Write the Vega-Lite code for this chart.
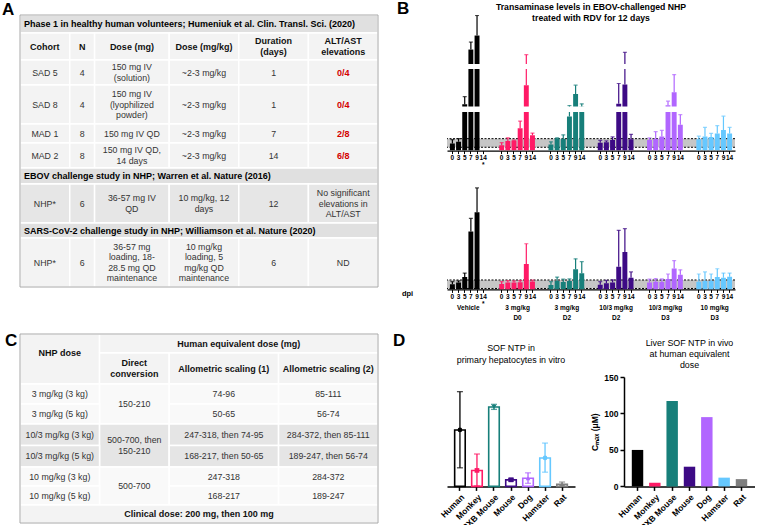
{
"$schema":"https://vega.github.io/schema/vega-lite/v6.json",
"padding":{"left":2,"top":0,"right":0,"bottom":0},
"background":"white",
"config":{"font":"Liberation Sans","view":{"stroke":null},
"axis":{"grid":false,"domainColor":"#000","tickColor":"#000","labelColor":"#000","titleColor":"#000","labelFontWeight":"bold","titleFontWeight":"bold","labelFont":"Liberation Sans","titleFont":"Liberation Sans"},
"title":{"font":"Liberation Sans","color":"#000"},"text":{"font":"Liberation Sans"}},
"datasets":{
"tables":[
{"r0":0,"r1":10,"c0":0,"c1":72,"t":"","k":"frame","s":"none"},
{"r0":11,"r1":20,"c0":0,"c1":72,"t":"","k":"frame","s":"none"},
{"r0":11,"r1":11,"c0":0,"c1":0,"t":"C","k":"letter","s":"none"},
{"r0":0,"r1":1,"c0":0,"c1":72,"t":"Phase 1 in healthy human volunteers; Humeniuk et al. Clin. Transl. Sci. (2020)","k":"title","s":"title"},
{"r0":1,"r1":2,"c0":0,"c1":10,"t":"Cohort","k":"head","s":"light"},
{"r0":1,"r1":2,"c0":10,"c1":15,"t":"N","k":"head","s":"light"},
{"r0":1,"r1":2,"c0":15,"c1":30,"t":"Dose (mg)","k":"head","s":"light"},
{"r0":1,"r1":2,"c0":30,"c1":44,"t":"Dose (mg/kg)","k":"head","s":"light"},
{"r0":1,"r1":2,"c0":44,"c1":58,"t":"Duration\n(days)","k":"head","s":"light"},
{"r0":1,"r1":2,"c0":58,"c1":72,"t":"ALT/AST\nelevations","k":"head","s":"light"},
{"r0":2,"r1":3,"c0":0,"c1":10,"t":"SAD 5","k":"body","s":"light"},
{"r0":2,"r1":3,"c0":10,"c1":15,"t":"4","k":"body","s":"light"},
{"r0":2,"r1":3,"c0":15,"c1":30,"t":"150 mg IV\n(solution)","k":"body","s":"light"},
{"r0":2,"r1":3,"c0":30,"c1":44,"t":"~2-3 mg/kg","k":"body","s":"light"},
{"r0":2,"r1":3,"c0":44,"c1":58,"t":"1","k":"body","s":"light"},
{"r0":2,"r1":3,"c0":58,"c1":72,"t":"0/4","k":"red","s":"light"},
{"r0":3,"r1":4,"c0":0,"c1":10,"t":"SAD 8","k":"body","s":"light"},
{"r0":3,"r1":4,"c0":10,"c1":15,"t":"4","k":"body","s":"light"},
{"r0":3,"r1":4,"c0":15,"c1":30,"t":"150 mg IV\n(lyophilized\npowder)","k":"body","s":"light"},
{"r0":3,"r1":4,"c0":30,"c1":44,"t":"~2-3 mg/kg","k":"body","s":"light"},
{"r0":3,"r1":4,"c0":44,"c1":58,"t":"1","k":"body","s":"light"},
{"r0":3,"r1":4,"c0":58,"c1":72,"t":"0/4","k":"red","s":"light"},
{"r0":4,"r1":5,"c0":0,"c1":10,"t":"MAD 1","k":"body","s":"light"},
{"r0":4,"r1":5,"c0":10,"c1":15,"t":"8","k":"body","s":"light"},
{"r0":4,"r1":5,"c0":15,"c1":30,"t":"150 mg IV QD","k":"body","s":"light"},
{"r0":4,"r1":5,"c0":30,"c1":44,"t":"~2-3 mg/kg","k":"body","s":"light"},
{"r0":4,"r1":5,"c0":44,"c1":58,"t":"7","k":"body","s":"light"},
{"r0":4,"r1":5,"c0":58,"c1":72,"t":"2/8","k":"red","s":"light"},
{"r0":5,"r1":6,"c0":0,"c1":10,"t":"MAD 2","k":"body","s":"light"},
{"r0":5,"r1":6,"c0":10,"c1":15,"t":"8","k":"body","s":"light"},
{"r0":5,"r1":6,"c0":15,"c1":30,"t":"150 mg IV QD,\n14 days","k":"body","s":"light"},
{"r0":5,"r1":6,"c0":30,"c1":44,"t":"~2-3 mg/kg","k":"body","s":"light"},
{"r0":5,"r1":6,"c0":44,"c1":58,"t":"14","k":"body","s":"light"},
{"r0":5,"r1":6,"c0":58,"c1":72,"t":"6/8","k":"red","s":"light"},
{"r0":6,"r1":7,"c0":0,"c1":72,"t":"EBOV challenge study in NHP; Warren et al. Nature (2016)","k":"title","s":"title"},
{"r0":7,"r1":8,"c0":0,"c1":10,"t":"NHP*","k":"body","s":"dark"},
{"r0":7,"r1":8,"c0":10,"c1":15,"t":"6","k":"body","s":"dark"},
{"r0":7,"r1":8,"c0":15,"c1":30,"t":"36-57 mg IV\nQD","k":"body","s":"dark"},
{"r0":7,"r1":8,"c0":30,"c1":44,"t":"10 mg/kg, 12\ndays","k":"body","s":"dark"},
{"r0":7,"r1":8,"c0":44,"c1":58,"t":"12","k":"body","s":"dark"},
{"r0":7,"r1":8,"c0":58,"c1":72,"t":"No significant\nelevations in\nALT/AST","k":"body","s":"dark"},
{"r0":8,"r1":9,"c0":0,"c1":72,"t":"SARS-CoV-2 challenge study in NHP; Williamson et al. Nature (2020)","k":"title","s":"title"},
{"r0":9,"r1":10,"c0":0,"c1":10,"t":"NHP*","k":"body","s":"light"},
{"r0":9,"r1":10,"c0":10,"c1":15,"t":"6","k":"body","s":"light"},
{"r0":9,"r1":10,"c0":15,"c1":30,"t":"36-57 mg\nloading, 18-\n28.5 mg QD\nmaintenance","k":"body","s":"light"},
{"r0":9,"r1":10,"c0":30,"c1":44,"t":"10 mg/kg\nloading, 5\nmg/kg QD\nmaintenance","k":"body","s":"light"},
{"r0":9,"r1":10,"c0":44,"c1":58,"t":"6","k":"body","s":"light"},
{"r0":9,"r1":10,"c0":58,"c1":72,"t":"ND","k":"body","s":"light"},
{"r0":11,"r1":13,"c0":0,"c1":16,"t":"NHP dose","k":"head","s":"hdr"},
{"r0":11,"r1":12,"c0":16,"c1":72,"t":"Human equivalent dose (mg)","k":"head","s":"hdr"},
{"r0":12,"r1":13,"c0":16,"c1":30,"t":"Direct\nconversion","k":"head","s":"hdr"},
{"r0":12,"r1":13,"c0":30,"c1":52,"t":"Allometric scaling (1)","k":"head","s":"hdr"},
{"r0":12,"r1":13,"c0":52,"c1":72,"t":"Allometric scaling (2)","k":"head","s":"hdr"},
{"r0":13,"r1":14,"c0":0,"c1":16,"t":"3 mg/kg (3 kg)","k":"body","s":"w"},
{"r0":13,"r1":15,"c0":16,"c1":30,"t":"150-210","k":"body","s":"w"},
{"r0":13,"r1":14,"c0":30,"c1":52,"t":"74-96","k":"body","s":"w"},
{"r0":13,"r1":14,"c0":52,"c1":72,"t":"85-111","k":"body","s":"w"},
{"r0":14,"r1":15,"c0":0,"c1":16,"t":"3 mg/kg (5 kg)","k":"body","s":"w"},
{"r0":14,"r1":15,"c0":30,"c1":52,"t":"50-65","k":"body","s":"w"},
{"r0":14,"r1":15,"c0":52,"c1":72,"t":"56-74","k":"body","s":"w"},
{"r0":15,"r1":16,"c0":0,"c1":16,"t":"10/3 mg/kg (3 kg)","k":"body","s":"g"},
{"r0":15,"r1":17,"c0":16,"c1":30,"t":"500-700, then\n150-210","k":"body","s":"g"},
{"r0":15,"r1":16,"c0":30,"c1":52,"t":"247-318, then 74-95","k":"body","s":"g"},
{"r0":15,"r1":16,"c0":52,"c1":72,"t":"284-372, then 85-111","k":"body","s":"g"},
{"r0":16,"r1":17,"c0":0,"c1":16,"t":"10/3 mg/kg (5 kg)","k":"body","s":"g"},
{"r0":16,"r1":17,"c0":30,"c1":52,"t":"168-217, then 50-65","k":"body","s":"g"},
{"r0":16,"r1":17,"c0":52,"c1":72,"t":"189-247, then 56-74","k":"body","s":"g"},
{"r0":17,"r1":18,"c0":0,"c1":16,"t":"10 mg/kg (3 kg)","k":"body","s":"w"},
{"r0":17,"r1":19,"c0":16,"c1":30,"t":"500-700","k":"body","s":"w"},
{"r0":17,"r1":18,"c0":30,"c1":52,"t":"247-318","k":"body","s":"w"},
{"r0":17,"r1":18,"c0":52,"c1":72,"t":"284-372","k":"body","s":"w"},
{"r0":18,"r1":19,"c0":0,"c1":16,"t":"10 mg/kg (5 kg)","k":"body","s":"w"},
{"r0":18,"r1":19,"c0":30,"c1":52,"t":"168-217","k":"body","s":"w"},
{"r0":18,"r1":19,"c0":52,"c1":72,"t":"189-247","k":"body","s":"w"},
{"r0":19,"r1":20,"c0":0,"c1":72,"t":"Clinical dose: 200 mg, then 100 mg","k":"head","s":"hdr"}
],
"ast":[
{"group":"Vehicle","day":"0","mean":40,"upper":62},{"group":"Vehicle","day":"3","mean":50,"upper":68},{"group":"Vehicle","day":"5","mean":295,"upper":456},{"group":"Vehicle","day":"7","mean":1460,"upper":1620},{"group":"Vehicle","day":"9","mean":1760,"upper":2190},
{"group":"3 mg/kg D0","day":"0","mean":30,"upper":45},{"group":"3 mg/kg D0","day":"3","mean":55,"upper":73},{"group":"3 mg/kg D0","day":"5","mean":57,"upper":60},{"group":"3 mg/kg D0","day":"7","mean":128,"upper":168},{"group":"3 mg/kg D0","day":"9","mean":700,"upper":1350},{"group":"3 mg/kg D0","day":"14","mean":88,"upper":100},
{"group":"3 mg/kg D2","day":"0","mean":35,"upper":50},{"group":"3 mg/kg D2","day":"3","mean":70,"upper":73},{"group":"3 mg/kg D2","day":"5","mean":68,"upper":90},{"group":"3 mg/kg D2","day":"7","mean":195,"upper":268},{"group":"3 mg/kg D2","day":"9","mean":515,"upper":700},{"group":"3 mg/kg D2","day":"14","mean":240,"upper":305},
{"group":"10/3 mg/kg D2","day":"0","mean":45,"upper":58},{"group":"10/3 mg/kg D2","day":"3","mean":48,"upper":55},{"group":"10/3 mg/kg D2","day":"5","mean":60,"upper":78},{"group":"10/3 mg/kg D2","day":"7","mean":305,"upper":735},{"group":"10/3 mg/kg D2","day":"9","mean":715,"upper":1400},{"group":"10/3 mg/kg D2","day":"14","mean":65,"upper":93},
{"group":"10/3 mg/kg D3","day":"0","mean":60,"upper":72},{"group":"10/3 mg/kg D3","day":"3","mean":68,"upper":108},{"group":"10/3 mg/kg D3","day":"5","mean":80,"upper":115},{"group":"10/3 mg/kg D3","day":"7","mean":275,"upper":360},{"group":"10/3 mg/kg D3","day":"9","mean":550,"upper":925},{"group":"10/3 mg/kg D3","day":"14","mean":147,"upper":205},
{"group":"10 mg/kg D3","day":"0","mean":65,"upper":82},{"group":"10 mg/kg D3","day":"3","mean":80,"upper":132},{"group":"10 mg/kg D3","day":"5","mean":78,"upper":98},{"group":"10 mg/kg D3","day":"7","mean":98,"upper":142},{"group":"10 mg/kg D3","day":"9","mean":118,"upper":196},{"group":"10 mg/kg D3","day":"14","mean":97,"upper":132}
],
"alt":[
{"group":"Vehicle","day":"0","mean":33,"upper":50},{"group":"Vehicle","day":"3","mean":45,"upper":55},{"group":"Vehicle","day":"5","mean":80,"upper":106},{"group":"Vehicle","day":"7","mean":375,"upper":460},{"group":"Vehicle","day":"9","mean":500,"upper":658},
{"group":"3 mg/kg D0","day":"0","mean":35,"upper":50},{"group":"3 mg/kg D0","day":"3","mean":45,"upper":57},{"group":"3 mg/kg D0","day":"5","mean":45,"upper":55},{"group":"3 mg/kg D0","day":"7","mean":47,"upper":57},{"group":"3 mg/kg D0","day":"9","mean":165,"upper":296},{"group":"3 mg/kg D0","day":"14","mean":52,"upper":60},
{"group":"3 mg/kg D2","day":"0","mean":28,"upper":50},{"group":"3 mg/kg D2","day":"3","mean":55,"upper":80},{"group":"3 mg/kg D2","day":"5","mean":48,"upper":66},{"group":"3 mg/kg D2","day":"7","mean":55,"upper":68},{"group":"3 mg/kg D2","day":"9","mean":130,"upper":198},{"group":"3 mg/kg D2","day":"14","mean":105,"upper":180},
{"group":"10/3 mg/kg D2","day":"0","mean":30,"upper":50},{"group":"10/3 mg/kg D2","day":"3","mean":40,"upper":58},{"group":"10/3 mg/kg D2","day":"5","mean":45,"upper":62},{"group":"10/3 mg/kg D2","day":"7","mean":147,"upper":383},{"group":"10/3 mg/kg D2","day":"9","mean":242,"upper":394},{"group":"10/3 mg/kg D2","day":"14","mean":76,"upper":113},
{"group":"10/3 mg/kg D3","day":"0","mean":45,"upper":66},{"group":"10/3 mg/kg D3","day":"3","mean":50,"upper":70},{"group":"10/3 mg/kg D3","day":"5","mean":48,"upper":68},{"group":"10/3 mg/kg D3","day":"7","mean":68,"upper":100},{"group":"10/3 mg/kg D3","day":"9","mean":135,"upper":187},{"group":"10/3 mg/kg D3","day":"14","mean":95,"upper":127},
{"group":"10 mg/kg D3","day":"0","mean":50,"upper":100},{"group":"10 mg/kg D3","day":"3","mean":55,"upper":113},{"group":"10 mg/kg D3","day":"5","mean":55,"upper":100},{"group":"10 mg/kg D3","day":"7","mean":80,"upper":134},{"group":"10 mg/kg D3","day":"9","mean":75,"upper":106},{"group":"10 mg/kg D3","day":"14","mean":82,"upper":106}
],
"astRange":[{"low":19,"high":68}],
"altRange":[{"low":6,"high":61}],
"invitro":[
{"species":"Human","mean":258,"low":85,"high":433},
{"species":"Monkey","mean":73,"low":2,"high":148},
{"species":"PXB Mouse","mean":363,"low":352,"high":375},
{"species":"Mouse","mean":30,"low":24,"high":37},
{"species":"Dog","mean":37,"low":14,"high":62},
{"species":"Hamster","mean":130,"low":65,"high":198},
{"species":"Rat","mean":10,"low":4,"high":20}
],
"invivo":[
{"species":"Human","cmax":50},{"species":"Monkey","cmax":5},{"species":"PXB Mouse","cmax":117},{"species":"Mouse","cmax":27},{"species":"Dog","cmax":95},{"species":"Hamster","cmax":12},{"species":"Rat","cmax":10}
]
},
"hconcat":[
 {"width":358,"height":508,
  "title":{"text":"A","anchor":"start","frame":"group","dx":-18,"offset":-18,"fontSize":17,"fontWeight":"bold","baseline":"alphabetic"},
  "data":{"name":"tables"},
  "transform":[{"calculate":"(datum.c0+datum.c1)/2","as":"xm"},{"calculate":"(datum.r0+datum.r1)/2","as":"ym"},{"calculate":"length(split(datum.t, '\\n'))","as":"nl"}],
  "encoding":{
   "x":{"field":"xm","type":"quantitative","scale":{"domain":[0,72],"range":[0,358],"nice":false},"axis":null},
   "y":{"field":"ym","type":"quantitative","scale":{"domain":[0,1,2,3,4,5,6,7,8,9,10,11,12,13,14,15,16,17,18,19,20],"range":[0,18,45,70,109,128,153,169,208,223,272,319,338,369,389,409,430.5,452,471,490,508],"nice":false,"zero":false},"axis":null}},
  "layer":[
   {"transform":[{"filter":"datum.k != 'frame' && datum.k != 'letter'"}],
    "mark":{"type":"rect","stroke":"white","strokeWidth":1.5},
    "encoding":{"x":{"field":"c0","type":"quantitative","scale":{"domain":[0,72],"range":[0,358],"nice":false},"axis":null},"x2":{"field":"c1"},
     "y":{"field":"r0","type":"quantitative","scale":{"domain":[0,1,2,3,4,5,6,7,8,9,10,11,12,13,14,15,16,17,18,19,20],"range":[0,18,45,70,109,128,153,169,208,223,272,319,338,369,389,409,430.5,452,471,490,508],"nice":false,"zero":false},"axis":null},"y2":{"field":"r1"},
     "fill":{"field":"s","type":"nominal","scale":{"domain":["title","light","dark","hdr","w","g"],"range":["#e0e0e0","#f3f3f3","#e6e6e6","#f3f3f3","#f9f9f9","#e5e5e5"]},"legend":null}}},
   {"transform":[{"filter":"datum.k == 'frame'"}],
    "mark":{"type":"rect","fill":null,"stroke":"#a8a8a8","strokeWidth":1},
    "encoding":{"x":{"field":"c0","type":"quantitative","scale":{"domain":[0,72],"range":[0,358],"nice":false},"axis":null},"x2":{"field":"c1"},
     "y":{"field":"r0","type":"quantitative","scale":{"domain":[0,1,2,3,4,5,6,7,8,9,10,11,12,13,14,15,16,17,18,19,20],"range":[0,18,45,70,109,128,153,169,208,223,272,319,338,369,389,409,430.5,452,471,490,508],"nice":false,"zero":false},"axis":null},"y2":{"field":"r1"}}},
   {"transform":[{"filter":"datum.k == 'letter'"}],
    "mark":{"type":"text","align":"left","dx":-15,"dy":12,"baseline":"alphabetic","fontWeight":"bold","fontSize":17,"color":"#000"},
    "encoding":{"x":{"field":"c0","type":"quantitative","scale":{"domain":[0,72],"range":[0,358],"nice":false},"axis":null},
     "y":{"field":"r0","type":"quantitative","scale":{"domain":[0,1,2,3,4,5,6,7,8,9,10,11,12,13,14,15,16,17,18,19,20],"range":[0,18,45,70,109,128,153,169,208,223,272,319,338,369,389,409,430.5,452,471,490,508],"nice":false,"zero":false},"axis":null},
     "text":{"field":"t"}}},
   {"transform":[{"filter":"datum.k == 'title'"}],
    "mark":{"type":"text","align":"left","dx":4,"baseline":"middle","fontWeight":"bold","fontSize":9,"color":"#000"},
    "encoding":{"x":{"field":"c0","type":"quantitative","scale":{"domain":[0,72],"range":[0,358],"nice":false},"axis":null},"text":{"field":"t"}}},
   {"transform":[{"filter":"(datum.k == 'head' || datum.k == 'red') && datum.nl == 1"}],
    "mark":{"type":"text","align":"center","baseline":"middle","fontWeight":"bold","fontSize":9},
    "encoding":{"text":{"field":"t"},"color":{"field":"k","type":"nominal","scale":{"domain":["head","red"],"range":["#111111","#d40000"]},"legend":null}}},
   {"transform":[{"filter":"datum.k == 'head' && datum.nl == 2"}],
    "mark":{"type":"text","align":"center","baseline":"middle","fontWeight":"bold","fontSize":9,"lineBreak":"\n","lineHeight":11,"dy":-5.5,"color":"#111111"},
    "encoding":{"text":{"field":"t"}}},
   {"transform":[{"filter":"datum.k == 'body' && datum.nl == 1"}],
    "mark":{"type":"text","align":"center","baseline":"middle","fontSize":8.8,"color":"#333333"},
    "encoding":{"text":{"field":"t"}}},
   {"transform":[{"filter":"datum.k == 'body' && datum.nl == 2"}],
    "mark":{"type":"text","align":"center","baseline":"middle","fontSize":8.8,"lineBreak":"\n","lineHeight":10.5,"dy":-5.25,"color":"#333333"},
    "encoding":{"text":{"field":"t"}}},
   {"transform":[{"filter":"datum.k == 'body' && datum.nl == 3"}],
    "mark":{"type":"text","align":"center","baseline":"middle","fontSize":8.8,"lineBreak":"\n","lineHeight":10.5,"dy":-10.5,"color":"#333333"},
    "encoding":{"text":{"field":"t"}}},
   {"transform":[{"filter":"datum.k == 'body' && datum.nl == 4"}],
    "mark":{"type":"text","align":"center","baseline":"middle","fontSize":8.8,"lineBreak":"\n","lineHeight":10.5,"dy":-15.75,"color":"#333333"},
    "encoding":{"text":{"field":"t"}}}
  ]},
{"vconcat":[
   {"width":288,"height":49,
    "title":{"text":["Transaminase levels in EBOV-challenged NHP","treated with RDV for 12 days"],"fontSize":8.7,"fontWeight":"bold","lineHeight":11,"offset":-8,"anchor":"middle"},
    "data":{"name":"ast"},
    "transform":[{"calculate":"datum.group + '_' + datum.day","as":"key"}],
    "encoding":{
     "x":{"field":"key","type":"nominal","scale":{"domain":["Vehicle_0","Vehicle_3","Vehicle_5","Vehicle_7","Vehicle_9","Vehicle_14","gap1a","gap1b","3 mg/kg D0_0","3 mg/kg D0_3","3 mg/kg D0_5","3 mg/kg D0_7","3 mg/kg D0_9","3 mg/kg D0_14","gap2a","gap2b","3 mg/kg D2_0","3 mg/kg D2_3","3 mg/kg D2_5","3 mg/kg D2_7","3 mg/kg D2_9","3 mg/kg D2_14","gap3a","gap3b","10/3 mg/kg D2_0","10/3 mg/kg D2_3","10/3 mg/kg D2_5","10/3 mg/kg D2_7","10/3 mg/kg D2_9","10/3 mg/kg D2_14","gap4a","gap4b","10/3 mg/kg D3_0","10/3 mg/kg D3_3","10/3 mg/kg D3_5","10/3 mg/kg D3_7","10/3 mg/kg D3_9","10/3 mg/kg D3_14","gap5a","gap5b","10 mg/kg D3_0","10 mg/kg D3_3","10 mg/kg D3_5","10 mg/kg D3_7","10 mg/kg D3_9","10 mg/kg D3_14"],"paddingInner":0.2,"paddingOuter":0.475},"axis":null},
     "color":{"field":"group","type":"nominal","scale":{"domain":["Vehicle","3 mg/kg D0","3 mg/kg D2","10/3 mg/kg D2","10/3 mg/kg D3","10 mg/kg D3"],"range":["#000000","#ff1a66","#177f7a","#3d0a85","#b166ff","#66c8ff"]},"legend":null}},
    "layer":[
     {"mark":{"type":"bar","clip":true},"encoding":{"y":{"field":"mean","type":"quantitative","scale":{"domain":[1150,2200],"nice":false,"zero":false},"axis":{"values":[1200,1400,1600,1800,2000,2200],"title":null,"labelFontSize":6.3,"tickSize":3,"labelPadding":1,"domainWidth":1.2}}}},
     {"mark":{"type":"rule","clip":true,"strokeWidth":1.2},"encoding":{"y":{"field":"mean","type":"quantitative","scale":{"domain":[1150,2200],"nice":false,"zero":false},"axis":null},"y2":{"field":"upper"}}},
     {"mark":{"type":"tick","clip":true,"thickness":1.2,"size":4},"encoding":{"y":{"field":"upper","type":"quantitative","scale":{"domain":[1150,2200],"nice":false,"zero":false},"axis":null}}}
    ]},
   {"width":288,"height":37.4,
    "data":{"name":"ast"},
    "transform":[{"calculate":"datum.group + '_' + datum.day","as":"key"}],
    "encoding":{
     "x":{"field":"key","type":"nominal","scale":{"domain":["Vehicle_0","Vehicle_3","Vehicle_5","Vehicle_7","Vehicle_9","Vehicle_14","gap1a","gap1b","3 mg/kg D0_0","3 mg/kg D0_3","3 mg/kg D0_5","3 mg/kg D0_7","3 mg/kg D0_9","3 mg/kg D0_14","gap2a","gap2b","3 mg/kg D2_0","3 mg/kg D2_3","3 mg/kg D2_5","3 mg/kg D2_7","3 mg/kg D2_9","3 mg/kg D2_14","gap3a","gap3b","10/3 mg/kg D2_0","10/3 mg/kg D2_3","10/3 mg/kg D2_5","10/3 mg/kg D2_7","10/3 mg/kg D2_9","10/3 mg/kg D2_14","gap4a","gap4b","10/3 mg/kg D3_0","10/3 mg/kg D3_3","10/3 mg/kg D3_5","10/3 mg/kg D3_7","10/3 mg/kg D3_9","10/3 mg/kg D3_14","gap5a","gap5b","10 mg/kg D3_0","10 mg/kg D3_3","10 mg/kg D3_5","10 mg/kg D3_7","10 mg/kg D3_9","10 mg/kg D3_14"],"paddingInner":0.2,"paddingOuter":0.475},"axis":null},
     "color":{"field":"group","type":"nominal","scale":{"domain":["Vehicle","3 mg/kg D0","3 mg/kg D2","10/3 mg/kg D2","10/3 mg/kg D3","10 mg/kg D3"],"range":["#000000","#ff1a66","#177f7a","#3d0a85","#b166ff","#66c8ff"]},"legend":null}},
    "layer":[
     {"mark":{"type":"bar","clip":true},"encoding":{"y":{"field":"mean","type":"quantitative","scale":{"domain":[250,1042],"nice":false,"zero":false},"axis":{"values":[400,600,800,1000],"title":"Mean AST (U/L)","titleFontSize":7,"titlePadding":4,"labelFontSize":6.3,"tickSize":3,"labelPadding":1,"domainWidth":1.2}}}},
     {"mark":{"type":"rule","clip":true,"strokeWidth":1.2},"encoding":{"y":{"field":"mean","type":"quantitative","scale":{"domain":[250,1042],"nice":false,"zero":false},"axis":null},"y2":{"field":"upper"}}},
     {"mark":{"type":"tick","clip":true,"thickness":1.2,"size":4},"encoding":{"y":{"field":"upper","type":"quantitative","scale":{"domain":[250,1042],"nice":false,"zero":false},"axis":null}}}
    ]},
   {"width":288,"height":38.6,
    "data":{"name":"ast"},
    "layer":[
     {"data":{"name":"astRange"},"layer":[
      {"mark":{"type":"rect","color":"#c6c6c6"},"encoding":{"y":{"field":"low","type":"quantitative","scale":{"domain":[0,220],"nice":false,"zero":false},"axis":null},"y2":{"field":"high"}}},
      {"mark":{"type":"rule","color":"#000","strokeDash":[2,1.5],"strokeWidth":1},"encoding":{"y":{"field":"low","type":"quantitative","scale":{"domain":[0,220],"nice":false,"zero":false},"axis":null}}},
      {"mark":{"type":"rule","color":"#000","strokeDash":[2,1.5],"strokeWidth":1},"encoding":{"y":{"field":"high","type":"quantitative","scale":{"domain":[0,220],"nice":false,"zero":false},"axis":null}}}
     ]},
     {"transform":[{"calculate":"datum.group + '_' + datum.day","as":"key"}],
      "encoding":{
       "x":{"field":"key","type":"nominal","scale":{"domain":["Vehicle_0","Vehicle_3","Vehicle_5","Vehicle_7","Vehicle_9","Vehicle_14","gap1a","gap1b","3 mg/kg D0_0","3 mg/kg D0_3","3 mg/kg D0_5","3 mg/kg D0_7","3 mg/kg D0_9","3 mg/kg D0_14","gap2a","gap2b","3 mg/kg D2_0","3 mg/kg D2_3","3 mg/kg D2_5","3 mg/kg D2_7","3 mg/kg D2_9","3 mg/kg D2_14","gap3a","gap3b","10/3 mg/kg D2_0","10/3 mg/kg D2_3","10/3 mg/kg D2_5","10/3 mg/kg D2_7","10/3 mg/kg D2_9","10/3 mg/kg D2_14","gap4a","gap4b","10/3 mg/kg D3_0","10/3 mg/kg D3_3","10/3 mg/kg D3_5","10/3 mg/kg D3_7","10/3 mg/kg D3_9","10/3 mg/kg D3_14","gap5a","gap5b","10 mg/kg D3_0","10 mg/kg D3_3","10 mg/kg D3_5","10 mg/kg D3_7","10 mg/kg D3_9","10 mg/kg D3_14"],"paddingInner":0.2,"paddingOuter":0.475},
        "axis":{"values":["Vehicle_0","Vehicle_3","Vehicle_5","Vehicle_7","Vehicle_9","Vehicle_14","3 mg/kg D0_0","3 mg/kg D0_3","3 mg/kg D0_5","3 mg/kg D0_7","3 mg/kg D0_9","3 mg/kg D0_14","3 mg/kg D2_0","3 mg/kg D2_3","3 mg/kg D2_5","3 mg/kg D2_7","3 mg/kg D2_9","3 mg/kg D2_14","10/3 mg/kg D2_0","10/3 mg/kg D2_3","10/3 mg/kg D2_5","10/3 mg/kg D2_7","10/3 mg/kg D2_9","10/3 mg/kg D2_14","10/3 mg/kg D3_0","10/3 mg/kg D3_3","10/3 mg/kg D3_5","10/3 mg/kg D3_7","10/3 mg/kg D3_9","10/3 mg/kg D3_14","10 mg/kg D3_0","10 mg/kg D3_3","10 mg/kg D3_5","10 mg/kg D3_7","10 mg/kg D3_9","10 mg/kg D3_14"],
         "labelExpr":"datum.value == 'Vehicle_14' ? ['14','*'] : split(datum.value, '_')[1]","labelAngle":0,"labelFontSize":6.5,"labelLineHeight":7,"tickSize":3,"labelPadding":1,"title":null,"domainWidth":1.2}},
       "color":{"field":"group","type":"nominal","scale":{"domain":["Vehicle","3 mg/kg D0","3 mg/kg D2","10/3 mg/kg D2","10/3 mg/kg D3","10 mg/kg D3"],"range":["#000000","#ff1a66","#177f7a","#3d0a85","#b166ff","#66c8ff"]},"legend":null}},
      "layer":[
       {"mark":{"type":"bar","clip":true},"encoding":{"y":{"field":"mean","type":"quantitative","scale":{"domain":[0,220],"nice":false,"zero":false},"axis":{"values":[0,50,100,150,200],"title":null,"labelFontSize":6.3,"tickSize":3,"labelPadding":1,"domainWidth":1.2}}}},
       {"mark":{"type":"rule","clip":true,"strokeWidth":1.2},"encoding":{"y":{"field":"mean","type":"quantitative","scale":{"domain":[0,220],"nice":false,"zero":false},"axis":null},"y2":{"field":"upper"}}},
       {"mark":{"type":"tick","clip":true,"thickness":1.2,"size":4},"encoding":{"y":{"field":"upper","type":"quantitative","scale":{"domain":[0,220],"nice":false,"zero":false},"axis":null}}}
      ]}
    ]},
  {"width":288,"height":4.3,"data":{"values":[]},"mark":"rule","encoding":{}},
  {"width":288,"height":123.4,
   "data":{"name":"alt"},
   "layer":[
    {"layer":[
     {"data":{"name":"altRange"},"layer":[
      {"mark":{"type":"rect","color":"#c6c6c6"},"encoding":{"y":{"field":"low","type":"quantitative","scale":{"domain":[0,800],"nice":false},"axis":null},"y2":{"field":"high"}}},
      {"mark":{"type":"rule","color":"#000","strokeDash":[2,1.5],"strokeWidth":1},"encoding":{"y":{"field":"low","type":"quantitative","scale":{"domain":[0,800],"nice":false},"axis":null}}},
      {"mark":{"type":"rule","color":"#000","strokeDash":[2,1.5],"strokeWidth":1},"encoding":{"y":{"field":"high","type":"quantitative","scale":{"domain":[0,800],"nice":false},"axis":null}}}
     ]},
     {"transform":[{"calculate":"datum.group + '_' + datum.day","as":"key"}],
      "encoding":{
       "x":{"field":"key","type":"nominal","scale":{"domain":["Vehicle_0","Vehicle_3","Vehicle_5","Vehicle_7","Vehicle_9","Vehicle_14","gap1a","gap1b","3 mg/kg D0_0","3 mg/kg D0_3","3 mg/kg D0_5","3 mg/kg D0_7","3 mg/kg D0_9","3 mg/kg D0_14","gap2a","gap2b","3 mg/kg D2_0","3 mg/kg D2_3","3 mg/kg D2_5","3 mg/kg D2_7","3 mg/kg D2_9","3 mg/kg D2_14","gap3a","gap3b","10/3 mg/kg D2_0","10/3 mg/kg D2_3","10/3 mg/kg D2_5","10/3 mg/kg D2_7","10/3 mg/kg D2_9","10/3 mg/kg D2_14","gap4a","gap4b","10/3 mg/kg D3_0","10/3 mg/kg D3_3","10/3 mg/kg D3_5","10/3 mg/kg D3_7","10/3 mg/kg D3_9","10/3 mg/kg D3_14","gap5a","gap5b","10 mg/kg D3_0","10 mg/kg D3_3","10 mg/kg D3_5","10 mg/kg D3_7","10 mg/kg D3_9","10 mg/kg D3_14"],"paddingInner":0.2,"paddingOuter":0.475},
        "axis":{"values":["Vehicle_0","Vehicle_3","Vehicle_5","Vehicle_7","Vehicle_9","Vehicle_14","3 mg/kg D0_0","3 mg/kg D0_3","3 mg/kg D0_5","3 mg/kg D0_7","3 mg/kg D0_9","3 mg/kg D0_14","3 mg/kg D2_0","3 mg/kg D2_3","3 mg/kg D2_5","3 mg/kg D2_7","3 mg/kg D2_9","3 mg/kg D2_14","10/3 mg/kg D2_0","10/3 mg/kg D2_3","10/3 mg/kg D2_5","10/3 mg/kg D2_7","10/3 mg/kg D2_9","10/3 mg/kg D2_14","10/3 mg/kg D3_0","10/3 mg/kg D3_3","10/3 mg/kg D3_5","10/3 mg/kg D3_7","10/3 mg/kg D3_9","10/3 mg/kg D3_14","10 mg/kg D3_0","10 mg/kg D3_3","10 mg/kg D3_5","10 mg/kg D3_7","10 mg/kg D3_9","10 mg/kg D3_14"],
         "labelExpr":"datum.value == 'Vehicle_14' ? ['14','*'] : split(datum.value, '_')[1]","labelAngle":0,"labelFontSize":6.5,"labelLineHeight":7,"tickSize":3,"labelPadding":1,"domainWidth":1.2,
         "title":"dpi","titleAngle":0,"titleX":-40,"titleY":4,"titleFontSize":7.5,"titleAlign":"center","titleBaseline":"middle"}},
       "color":{"field":"group","type":"nominal","scale":{"domain":["Vehicle","3 mg/kg D0","3 mg/kg D2","10/3 mg/kg D2","10/3 mg/kg D3","10 mg/kg D3"],"range":["#000000","#ff1a66","#177f7a","#3d0a85","#b166ff","#66c8ff"]},"legend":null}},
      "layer":[
       {"mark":{"type":"bar","clip":true},"encoding":{"y":{"field":"mean","type":"quantitative","scale":{"domain":[0,800],"nice":false},"axis":{"values":[0,200,400,600,800],"title":"Mean ALT (U/L)","titleFontSize":7,"titlePadding":4,"labelFontSize":8,"tickSize":3,"labelPadding":1,"domainWidth":1.2}}}},
       {"mark":{"type":"rule","clip":true,"strokeWidth":1.2},"encoding":{"y":{"field":"mean","type":"quantitative","scale":{"domain":[0,800],"nice":false},"axis":null},"y2":{"field":"upper"}}},
       {"mark":{"type":"tick","clip":true,"thickness":1.2,"size":4},"encoding":{"y":{"field":"upper","type":"quantitative","scale":{"domain":[0,800],"nice":false},"axis":null}}}
      ]}
    ]},
    {"mark":{"type":"point","opacity":0},
     "encoding":{"x":{"field":"group","type":"nominal","scale":{"type":"point","domain":["Vehicle","3 mg/kg D0","3 mg/kg D2","10/3 mg/kg D2","10/3 mg/kg D3","10 mg/kg D3"],"padding":0.4219},
       "axis":{"orient":"bottom","offset":15,"domain":false,"ticks":false,"labelPadding":0,"labelFontSize":6.5,"labelLineHeight":10,"labelAngle":0,"labelBaseline":"top","title":null,"labelExpr":"split(replace(datum.value, ' D', '|D'), '|')"}},
      "y":{"field":"mean","type":"quantitative","scale":{"domain":[0,800],"nice":false},"axis":null}}}
   ],
   "resolve":{"scale":{"x":"independent"},"axis":{"x":"independent"}}},
  {"width":288,"height":76.9,"data":{"values":[]},"mark":"rule","encoding":{}},
 {"hconcat":[
  {"width":128,"height":109.4,
   "title":{"text":["SOF NTP in","primary hepatocytes in vitro"],"fontSize":8.9,"fontWeight":"normal","lineHeight":12,"offset":12},
   "data":{"name":"invitro"},
   "encoding":{"x":{"field":"species","type":"nominal","sort":["Human","Monkey","PXB Mouse","Mouse","Dog","Hamster","Rat"],"scale":{"domain":["Human","Monkey","PXB Mouse","Mouse","Dog","Hamster","Rat"],"paddingInner":0.38,"paddingOuter":0.45},"axis":{"labelAngle":-45,"title":null,"labelFontSize":8.5,"tickSize":4,"domainWidth":1.5,"tickWidth":1.5}}},
   "layer":[
    {"mark":{"type":"bar","fill":"white","strokeWidth":1.6},"encoding":{"y":{"field":"mean","type":"quantitative","scale":{"domain":[0,500],"nice":false},"axis":{"values":[0,100,200,300,400,500],"title":["Cₘₐₓ","pmol/million cells"],"titleFontSize":8.5,"titleLineHeight":11,"titlePadding":4,"labelFontSize":8.5,"tickSize":4,"domainWidth":1.5,"tickWidth":1.5}},
     "stroke":{"field":"species","type":"nominal","scale":{"domain":["Human","Monkey","PXB Mouse","Mouse","Dog","Hamster","Rat"],"range":["#000000","#ff1a66","#177f7a","#3d0a85","#b166ff","#66c8ff","#7f7f7f"]},"legend":null}}},
    {"mark":{"type":"rule","strokeWidth":1.3},"encoding":{"y":{"field":"low","type":"quantitative","scale":{"domain":[0,500],"nice":false},"axis":null},"y2":{"field":"high"},
     "color":{"field":"species","type":"nominal","scale":{"domain":["Human","Monkey","PXB Mouse","Mouse","Dog","Hamster","Rat"],"range":["#000000","#ff1a66","#177f7a","#3d0a85","#b166ff","#66c8ff","#7f7f7f"]},"legend":null}}},
    {"mark":{"type":"tick","thickness":1.3,"size":6},"encoding":{"y":{"field":"high","type":"quantitative","scale":{"domain":[0,500],"nice":false},"axis":null},
     "color":{"field":"species","type":"nominal","scale":{"domain":["Human","Monkey","PXB Mouse","Mouse","Dog","Hamster","Rat"],"range":["#000000","#ff1a66","#177f7a","#3d0a85","#b166ff","#66c8ff","#7f7f7f"]},"legend":null}}},
    {"mark":{"type":"tick","thickness":1.3,"size":6},"encoding":{"y":{"field":"low","type":"quantitative","scale":{"domain":[0,500],"nice":false},"axis":null},
     "color":{"field":"species","type":"nominal","scale":{"domain":["Human","Monkey","PXB Mouse","Mouse","Dog","Hamster","Rat"],"range":["#000000","#ff1a66","#177f7a","#3d0a85","#b166ff","#66c8ff","#7f7f7f"]},"legend":null}}},
    {"mark":{"type":"point","filled":true,"size":22,"opacity":1},"encoding":{"y":{"field":"mean","type":"quantitative","scale":{"domain":[0,500],"nice":false},"axis":null},
     "color":{"field":"species","type":"nominal","scale":{"domain":["Human","Monkey","PXB Mouse","Mouse","Dog","Hamster","Rat"],"range":["#000000","#ff1a66","#177f7a","#3d0a85","#b166ff","#66c8ff","#7f7f7f"]},"legend":null},
     "shape":{"field":"species","type":"nominal","scale":{"domain":["Human","Monkey","PXB Mouse","Mouse","Dog","Hamster","Rat"],"range":["circle","square","triangle-down","square","triangle-up","circle","triangle-up"]},"legend":null}}}
   ]},
  {"width":131,"height":109.4,
   "title":{"text":["Liver SOF NTP in vivo","at human equivalent","dose"],"fontSize":8.9,"fontWeight":"normal","lineHeight":11,"offset":3},
   "data":{"name":"invivo"},
   "mark":{"type":"bar"},
   "encoding":{"x":{"field":"species","type":"nominal","sort":["Human","Monkey","PXB Mouse","Mouse","Dog","Hamster","Rat"],"scale":{"domain":["Human","Monkey","PXB Mouse","Mouse","Dog","Hamster","Rat"],"paddingInner":0.34,"paddingOuter":0.45},"axis":{"labelAngle":-45,"title":null,"labelFontSize":8.5,"tickSize":4,"domainWidth":1.5,"tickWidth":1.5}},
    "y":{"field":"cmax","type":"quantitative","scale":{"domain":[0,150],"nice":false},"axis":{"values":[0,50,100,150],"title":"Cₘₐₓ  (μM)","titleFontSize":8.5,"titlePadding":4,"labelFontSize":8.5,"tickSize":4,"domainWidth":1.5,"tickWidth":1.5}},
    "color":{"field":"species","type":"nominal","scale":{"domain":["Human","Monkey","PXB Mouse","Mouse","Dog","Hamster","Rat"],"range":["#000000","#ff1a66","#177f7a","#3d0a85","#b166ff","#66c8ff","#7f7f7f"]},"legend":null}}}
 ],"spacing":49,"bounds":"flush",
 "title":{"text":"D","anchor":"start","frame":"group","dx":-54,"offset":-24,"fontSize":17,"fontWeight":"bold","baseline":"alphabetic"},
 "resolve":{"scale":{"color":"independent","fill":"independent","stroke":"independent","shape":"independent"}}}
],"spacing":5,"bounds":"flush",
"title":{"text":"B","anchor":"start","frame":"group","dx":-50,"offset":-28,"fontSize":17,"fontWeight":"bold","baseline":"alphabetic"},
"resolve":{"scale":{"color":"independent","fill":"independent","stroke":"independent","shape":"independent"}}}
],
"spacing":69,"bounds":"flush",
"resolve":{"scale":{"color":"independent","fill":"independent","stroke":"independent","shape":"independent"}}
}
